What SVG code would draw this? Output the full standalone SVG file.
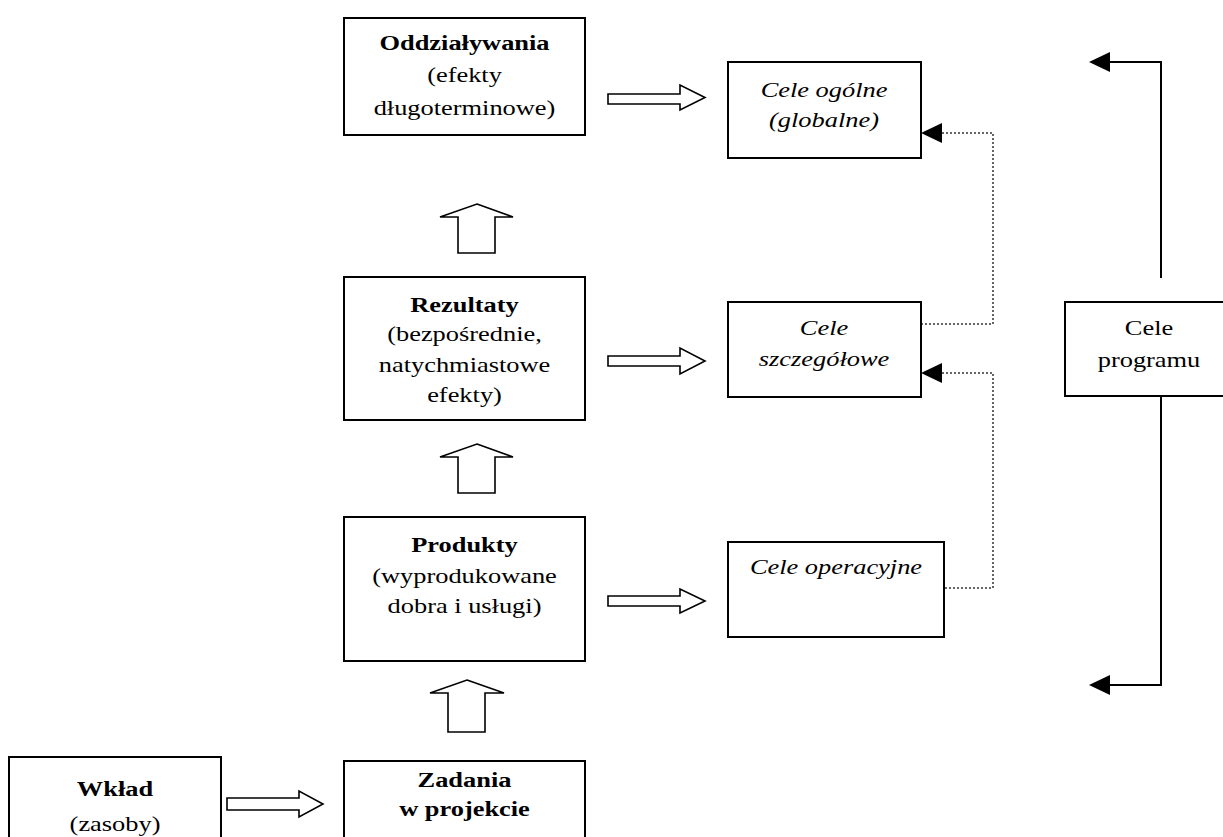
<svg xmlns="http://www.w3.org/2000/svg" width="1223" height="837" viewBox="0 0 1223 837">
<style>
.box{fill:#fff;stroke:#000;stroke-width:2}
.blk{fill:#fff;stroke:#000;stroke-width:1.6;stroke-linejoin:miter}
.t{font-family:"Liberation Serif","Times New Roman",serif;font-size:22px;text-anchor:middle;fill:#000}
.b{font-weight:bold}
.i{font-style:italic}
.dot{fill:none;stroke:#333;stroke-width:1.5;stroke-dasharray:2 2}
.sol{fill:none;stroke:#000;stroke-width:2}
.hd{fill:#000}
</style>
<rect width="1223" height="837" fill="#fff"/>
<g id="connectors">
<polygon class="blk" points="608,94 680,94 680,85 705,97.5 680,110 680,104 608,104"/>
<polygon class="blk" points="608,356 680,356 680,348 705,361 680,374 680,366 608,366"/>
<polygon class="blk" points="608,596 680,596 680,589 705,601 680,613 680,606 608,606"/>
<polygon class="blk" points="227,798 299,798 299,791 323,804 299,817 299,810 227,810"/>
<polygon class="blk" points="477,204 513,217 495,217 495,253 458,253 458,217 440,217"/>
<polygon class="blk" points="477,444 513,457 495,457 495,493 458,493 458,457 440,457"/>
<polygon class="blk" points="467,680 504,693 485,693 485,732 448,732 448,693 430,693"/>
<path class="dot" d="M942,133 H993 V324 H922"/>
<polygon class="hd" points="921,133 942,123 942,143"/>
<path class="dot" d="M942,373 H993 V588 H945"/>
<polygon class="hd" points="921,373 942,363 942,383"/>
<path class="sol" d="M1161,278 V62 H1108"/>
<polygon class="hd" points="1089,62 1110,52 1110,72"/>
<path class="sol" d="M1161,396 V685 H1108"/>
<polygon class="hd" points="1089,685 1110,675 1110,695"/>
</g>
<g id="oddzialywania">
<rect class="box" x="344" y="18" width="241" height="117"/>
<text class="t b" transform="matrix(1.2 0 0 1 464.5 50)">Oddziaływania</text>
<text class="t" transform="matrix(1.2 0 0 1 464.5 82)">(efekty</text>
<text class="t" transform="matrix(1.2 0 0 1 464.5 115)">długoterminowe)</text>
</g>
<g id="rezultaty">
<rect class="box" x="344" y="277" width="241" height="143"/>
<text class="t b" transform="matrix(1.2 0 0 1 464.5 312)">Rezultaty</text>
<text class="t" transform="matrix(1.2 0 0 1 464.5 341)">(bezpośrednie,</text>
<text class="t" transform="matrix(1.2 0 0 1 464.5 372)">natychmiastowe</text>
<text class="t" transform="matrix(1.2 0 0 1 464.5 402)">efekty)</text>
</g>
<g id="produkty">
<rect class="box" x="344" y="517" width="241" height="144"/>
<text class="t b" transform="matrix(1.2 0 0 1 464.5 552)">Produkty</text>
<text class="t" transform="matrix(1.2 0 0 1 464.5 583)">(wyprodukowane</text>
<text class="t" transform="matrix(1.2 0 0 1 464.5 613)">dobra i usługi)</text>
</g>
<g id="zadania">
<rect class="box" x="344" y="761" width="241" height="90"/>
<text class="t b" transform="matrix(1.2 0 0 1 464.5 787)">Zadania</text>
<text class="t b" transform="matrix(1.2 0 0 1 464.5 816)">w projekcie</text>
</g>
<g id="wklad">
<rect class="box" x="9" y="757" width="212" height="95"/>
<text class="t b" transform="matrix(1.2 0 0 1 115 796)">Wkład</text>
<text class="t" transform="matrix(1.2 0 0 1 115 831)">(zasoby)</text>
</g>
<g id="cele-ogolne">
<rect class="box" x="728" y="62" width="193" height="96"/>
<text class="t i" transform="matrix(1.2 0 0 1 824 97)">Cele ogólne</text>
<text class="t i" transform="matrix(1.2 0 0 1 824 127)">(globalne)</text>
</g>
<g id="cele-szczegolowe">
<rect class="box" x="728" y="302" width="193" height="95"/>
<text class="t i" transform="matrix(1.2 0 0 1 824 335)">Cele</text>
<text class="t i" transform="matrix(1.2 0 0 1 824 366)">szczegółowe</text>
</g>
<g id="cele-operacyjne">
<rect class="box" x="728" y="542" width="216" height="95"/>
<text class="t i" transform="matrix(1.2 0 0 1 836 574)">Cele operacyjne</text>
</g>
<g id="cele-programu">
<rect class="box" x="1065" y="302" width="170" height="94"/>
<text class="t" transform="matrix(1.2 0 0 1 1149 335)">Cele</text>
<text class="t" transform="matrix(1.2 0 0 1 1149 367)">programu</text>
</g>
</svg>
